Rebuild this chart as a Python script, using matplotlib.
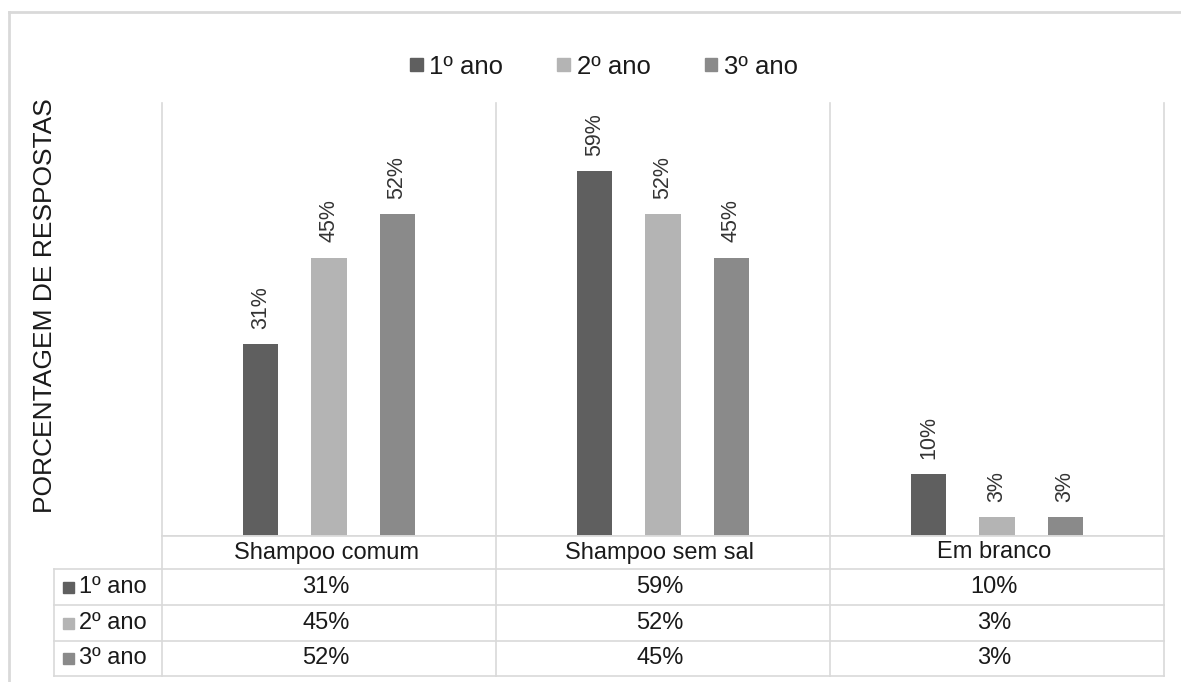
import matplotlib
matplotlib.use("Agg")
import matplotlib.pyplot as plt
from matplotlib.patches import Rectangle
from matplotlib.lines import Line2D
import numpy as np

plt.rcParams['font.family'] = ['Liberation Sans', 'DejaVu Sans']

categories = ["Shampoo comum", "Shampoo sem sal", "Em branco"]
series_names = ["1º ano", "2º ano", "3º ano"]
vals_1 = [0.31, 0.59, 0.10]
vals_2 = [0.45, 0.52, 0.03]
vals_3 = [0.52, 0.45, 0.03]
colors = ["#5f5f5f", "#b4b4b4", "#8a8a8a"]
series = [vals_1, vals_2, vals_3]

W, H = 1181, 682
fig = plt.figure(figsize=(W / 100, H / 100), dpi=100)

def fx(x):
    return x / W

def fy(y):
    return 1 - y / H

grid_c = "#d9d9d9"
txt_c = "#1a1a1a"
x_left, x_right = 162, 1164
y_top, y_base = 103, 536
ax = fig.add_axes([fx(x_left), fy(y_base), fx(x_right) - fx(x_left), fy(y_top) - fy(y_base)])

n = len(categories)
x = np.arange(n)
bw = 0.105
off = 0.204
for i, (vals, c, name) in enumerate(zip(series, colors, series_names)):
    pos = x + (i - 1) * off
    ax.bar(pos, vals, width=bw, color=c, label=name, zorder=3)
    for p, v in zip(pos, vals):
        ax.annotate(f"{round(v * 100):.0f}%", (p, v), xytext=(0, 11), textcoords="offset points",
                    rotation=90, ha="center", va="bottom", fontsize=15.5, color="#333333")

ax.set_xlim(-0.5, n - 0.5)
ax.set_ylim(0, 0.70)
ax.set_xticks([])
ax.set_yticks([])
for s in ax.spines.values():
    s.set_visible(False)
ax.axhline(0, color=grid_c, lw=1.2, zorder=4)

# Category dividers, extending through the table
xs_div = [x_left + k * (x_right - x_left) / n for k in range(n + 1)]
rows_y = [536, 569, 605, 641, 676]
for k, xd in enumerate(xs_div):
    fig.add_artist(Line2D([fx(xd), fx(xd)], [fy(y_top), fy(rows_y[-1])], color=grid_c, lw=1.2))
fig.add_artist(Line2D([fx(54), fx(54)], [fy(rows_y[1]), fy(rows_y[-1])], color=grid_c, lw=1.2))
for j, yy in enumerate(rows_y):
    x0 = x_left if j == 0 else 54
    fig.add_artist(Line2D([fx(x0), fx(x_right)], [fy(yy), fy(yy)], color=grid_c, lw=1.2))

# header row
for k, cat in enumerate(categories):
    cx = (xs_div[k] + xs_div[k + 1]) / 2
    fig.text(fx(cx - 3), fy((rows_y[0] + rows_y[1]) / 2), cat, ha="center", va="center",
             fontsize=17, color=txt_c)
# data rows
for i, (vals, c, name) in enumerate(zip(series, colors, series_names)):
    cy = (rows_y[i + 1] + rows_y[i + 2]) / 2
    fig.add_artist(Rectangle((fx(63), fy(cy + 5.5)), fx(11), 11 / H, color=c, transform=fig.transFigure))
    fig.text(fx(79), fy(cy), name, ha="left", va="center", fontsize=17, color=txt_c)
    for k, v in enumerate(vals):
        cx = (xs_div[k] + xs_div[k + 1]) / 2
        fig.text(fx(cx - 3), fy(cy), f"{round(v * 100):.0f}%", ha="center", va="center",
                 fontsize=17, color=txt_c)

# y label
fig.text(fx(45), fy(306), "PORCENTAGEM DE RESPOSTAS", rotation=90,
         ha="center", va="center", fontsize=19, color=txt_c)

# legend
handles = [Rectangle((0, 0), 1, 1, color=c) for c in colors]
fig.legend(handles, series_names, loc="center", bbox_to_anchor=(fx(604), fy(67)), ncol=3,
           frameon=False, fontsize=18.5, handlelength=0.5, handleheight=0.38, handletextpad=0.25,
           columnspacing=2.1, labelcolor=txt_c)

# outer border
fig.add_artist(Line2D([fx(9), 1], [fy(12), fy(12)], color=grid_c, lw=2))
fig.add_artist(Line2D([fx(9), fx(9)], [fy(12), 0], color=grid_c, lw=2))

fig.savefig("out.png", dpi=100)
